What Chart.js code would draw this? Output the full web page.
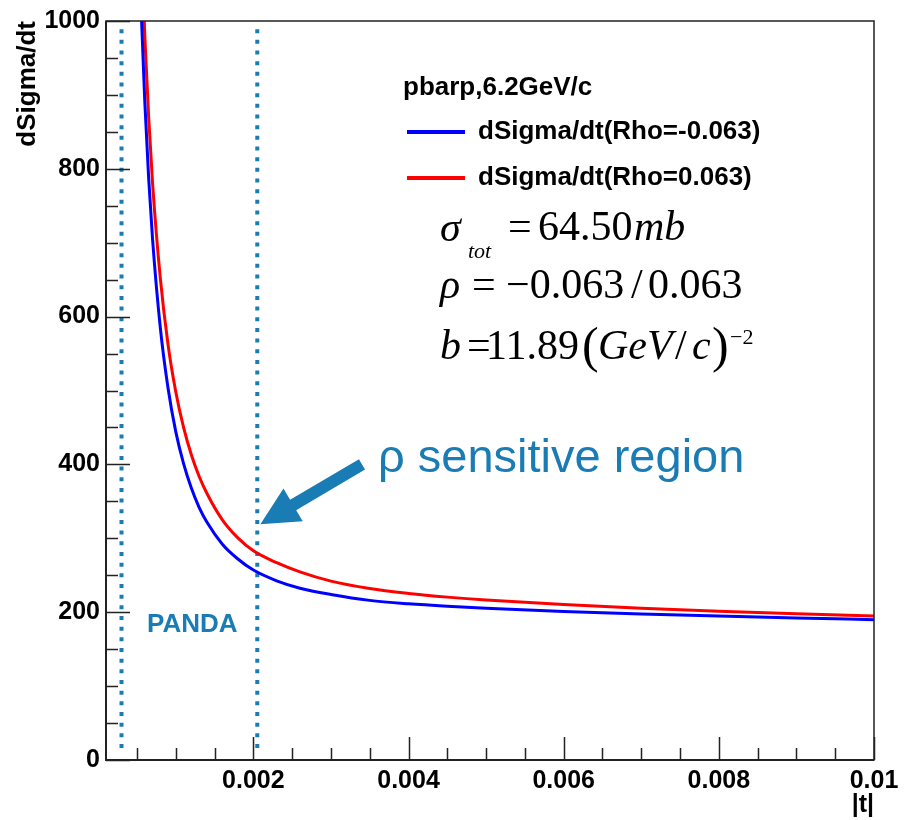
<!DOCTYPE html>
<html>
<head>
<meta charset="utf-8">
<script src="https://cdn.jsdelivr.net/npm/chart.js@4.4.1/dist/chart.umd.min.js"></script>
<style>
  html, body { margin: 0; padding: 0; background: #fff; }
  canvas { display: block; }
</style>
</head>
<body>
<canvas id="myChart" width="912" height="820"></canvas>
<script>
const ctx = document.getElementById('myChart').getContext('2d');

/*** data ***/
const tValues = [0.0005, 0.00055, 0.0006, 0.00065, 0.0007, 0.0008, 0.0009, 0.001, 0.0011, 0.0012,
    0.0013, 0.0014, 0.0016, 0.0018, 0.002, 0.0023, 0.0026, 0.003, 0.0035, 0.004,
    0.0045, 0.005, 0.006, 0.007, 0.008, 0.009, 0.01];
const rhoMinus = [1201, 1024, 891, 787, 705, 585, 503, 444, 401, 368,
    342, 322, 292, 272, 257, 242.5, 232.5, 224, 216, 211.4,
    208.1, 205.5, 201.1, 197.7, 194.8, 192.2, 189.9];
const rhoPlus = [1308, 1122, 980, 870, 781, 652, 562, 498, 450, 413,
    384, 361, 325, 300.5, 283, 267, 254.5, 242, 232, 225.4,
    220.4, 216.4, 210.3, 205.3, 201.3, 197.8, 194.7];
const pandaLimits = [0.0003, 0.00205];   // dotted lines
const dotSpan = [9, 989];                // dotted lines run between these y values

const xTickValues = [0.002, 0.004, 0.006, 0.008, 0.01];
const xTickLabels = ['0.002', '0.004', '0.006', '0.008', '0.01'];
const yTickValues = [0, 200, 400, 600, 800, 1000];
const yTickLabels = ['0', '200', '400', '600', '800', '1000'];
/*************/

const TEAL = '#1a7cb4';
const SANS = "'Liberation Sans', Arial, sans-serif";
const SERIF = "'Liberation Serif', 'Times New Roman', serif";

function toPoints(xs, ys) {
    return xs.map((x, i) => ({x: x, y: ys[i]}));
}

function text(c, s, x, y, font, color, align, base) {
    c.font = font;
    c.fillStyle = color || '#000';
    c.textAlign = align || 'left';
    c.textBaseline = base || 'alphabetic';
    c.fillText(s, x, y);
}

// frame, ROOT style inner ticks, legend and annotations
const rootDecor = {
    id: 'rootDecor',
    afterDraw(chart) {
        const c = chart.ctx;
        const {left, right, top, bottom} = chart.chartArea;
        const xs = chart.scales.x, ys = chart.scales.y;
        c.save();

        // frame
        c.strokeStyle = '#222';
        c.lineWidth = 1.5;
        c.strokeRect(left, top, right - left, bottom - top);
        c.lineWidth = 2;
        c.beginPath();
        c.moveTo(left, top); c.lineTo(left, bottom); c.lineTo(right, bottom);
        c.stroke();

        // ticks
        c.lineWidth = 1.5;
        c.beginPath();
        for (let v = 0; v <= 1000; v += 50) {
            const py = Math.round(ys.getPixelForValue(v)) + 0.5;
            const len = v % 200 === 0 ? 24 : 12;
            c.moveTo(left, py); c.lineTo(left + len, py);
        }
        for (let k = 1; k <= 20; k++) {
            const v = k * 0.0005;
            const px = Math.round(xs.getPixelForValue(v)) + 0.5;
            const len = k % 4 === 0 ? 23 : 12;
            c.moveTo(px, bottom); c.lineTo(px, bottom - len);
        }
        c.stroke();

        // legend
        const lf = 'bold 26px ' + SANS;
        text(c, 'pbarp,6.2GeV/c', 403, 88, lf, '#000', 'left', 'middle');
        c.lineWidth = 4;
        c.strokeStyle = '#0000ff';
        c.beginPath(); c.moveTo(407, 132); c.lineTo(465, 132); c.stroke();
        c.strokeStyle = '#ff0000';
        c.beginPath(); c.moveTo(407, 178); c.lineTo(465, 178); c.stroke();
        text(c, 'dSigma/dt(Rho=-0.063)', 478, 132, lf, '#000', 'left', 'middle');
        text(c, 'dSigma/dt(Rho=0.063)', 478, 178, lf, '#000', 'left', 'middle');

        // formulas
        const it = 'italic 42px ' + SERIF, rm = '42px ' + SERIF;
        text(c, 'σ', 440, 241, it);
        text(c, 'tot', 468, 258, 'italic 22px ' + SERIF);
        text(c, '=', 508, 240, rm);
        text(c, '64.50', 538, 240, rm);
        text(c, 'mb', 634, 240, it);

        text(c, 'ρ', 440, 298, it);
        text(c, '=', 472, 298, rm);
        text(c, '\u22120.063', 506, 298, rm);
        text(c, '/', 631, 298, rm);
        text(c, '0.063', 648, 298, rm);

        text(c, 'b', 440, 359, it);
        text(c, '=', 467, 359, rm);
        text(c, '11.89', 486, 359, rm);
        text(c, '(', 582, 362, '50px ' + SERIF);
        text(c, 'GeV', 598, 359, it);
        text(c, '/', 675, 359, rm);
        text(c, 'c', 692, 359, it);
        text(c, ')', 712, 362, '50px ' + SERIF);
        text(c, '\u22122', 730, 344, '22px ' + SERIF);

        // PANDA region annotations
        text(c, 'PANDA', 147, 625, 'bold 26px ' + SANS, TEAL, 'left', 'middle');
        text(c, 'ρ sensitive region', 378, 472, '47px ' + SANS, TEAL);

        // arrow pointing at the region edge
        const tip = {x: xs.getPixelForValue(0.00209), y: ys.getPixelForValue(319)};
        const tail = {x: xs.getPixelForValue(0.0034), y: ys.getPixelForValue(400)};
        const dx = tail.x - tip.x, dy = tail.y - tip.y;
        const d = Math.hypot(dx, dy);
        const ux = dx / d, uy = dy / d, nx = -uy, ny = ux;
        const bx = tip.x + ux * 38, by = tip.y + uy * 38;
        c.fillStyle = TEAL;
        c.beginPath();
        c.moveTo(tip.x, tip.y);
        c.lineTo(bx + nx * 19, by + ny * 19);
        c.lineTo(bx + nx * 6, by + ny * 6);
        c.lineTo(tail.x + nx * 6, tail.y + ny * 6);
        c.lineTo(tail.x - nx * 6, tail.y - ny * 6);
        c.lineTo(bx - nx * 6, by - ny * 6);
        c.lineTo(bx - nx * 19, by - ny * 19);
        c.closePath();
        c.fill();

        c.restore();
    }
};

//data
const data = {
    datasets: [
        {
            label: 'dSigma/dt(Rho=-0.063)',
            data: toPoints(tValues, rhoMinus),
            borderColor: '#0000ff',
            borderWidth: 3,
            pointRadius: 0,
            cubicInterpolationMode: 'monotone'
        },
        {
            label: 'dSigma/dt(Rho=0.063)',
            data: toPoints(tValues, rhoPlus),
            borderColor: '#ff0000',
            borderWidth: 3,
            pointRadius: 0,
            cubicInterpolationMode: 'monotone'
        },
        {
            label: 'PANDA low',
            data: [{x: pandaLimits[0], y: dotSpan[1]}, {x: pandaLimits[0], y: dotSpan[0]}],
            borderColor: TEAL,
            borderWidth: 4,
            borderDash: [4, 6.67],
            borderCapStyle: 'butt',
            pointRadius: 0
        },
        {
            label: 'PANDA high',
            data: [{x: pandaLimits[1], y: dotSpan[1]}, {x: pandaLimits[1], y: dotSpan[0]}],
            borderColor: TEAL,
            borderWidth: 4,
            borderDash: [4, 6.67],
            borderCapStyle: 'butt',
            pointRadius: 0
        }
    ]
};

//config
const config = {
    type: 'line',
    data,
    options: {
        responsive: false,
        animation: false,
        layout: {padding: {left: 0, top: 15, right: 38, bottom: 0}},
        plugins: {
            legend: {display: false},
            tooltip: {enabled: false}
        },
        scales: {
            x: {
                type: 'linear',
                min: 0.0001,
                max: 0.01,
                grid: {display: false, drawTicks: false},
                border: {display: false},
                afterBuildTicks: (axis) => { axis.ticks = xTickValues.map(v => ({value: v})); },
                afterFit: (axis) => { axis.height = 60; },
                ticks: {
                    autoSkip: false,
                    maxRotation: 0,
                    padding: 6,
                    color: '#000',
                    font: {family: SANS, size: 25, weight: 'bold'},
                    callback: (v, i) => xTickLabels[i]
                },
                title: {
                    display: true,
                    text: '|t|',
                    align: 'end',
                    color: '#000',
                    padding: {top: 0, bottom: 0},
                    font: {family: SANS, size: 25, weight: 'bold'}
                }
            },
            y: {
                min: 0,
                max: 1000,
                grid: {display: false, drawTicks: false},
                border: {display: false},
                afterBuildTicks: (axis) => { axis.ticks = yTickValues.map(v => ({value: v})); },
                afterFit: (axis) => { axis.width = 106; },
                ticks: {
                    autoSkip: false,
                    padding: 6,
                    color: '#000',
                    font: {family: SANS, size: 25, weight: 'bold'},
                    callback: (v, i) => yTickLabels[i]
                },
                title: {
                    display: true,
                    text: 'dSigma/dt',
                    align: 'end',
                    color: '#000',
                    padding: {top: 12, bottom: 0},
                    font: {family: SANS, size: 26, weight: 'bold'}
                }
            }
        }
    },
    plugins: [rootDecor]
};

//render init
const myChart = new Chart(ctx, config);
</script>
</body>
</html>
